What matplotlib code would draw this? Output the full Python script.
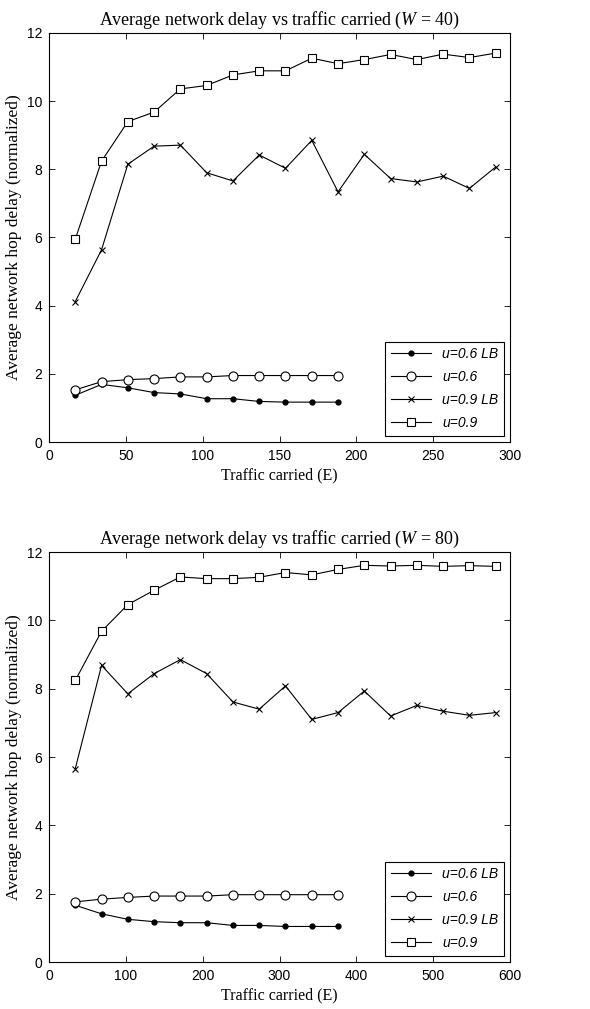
import matplotlib
matplotlib.use('Agg')
import matplotlib.pyplot as plt

plt.rcParams['font.family'] = ['Liberation Sans', 'DejaVu Sans']
plt.rcParams['mathtext.fontset'] = 'custom'
plt.rcParams['mathtext.rm'] = 'Liberation Serif'
plt.rcParams['mathtext.it'] = 'Liberation Serif:italic'

# W = 40
x40 = [17.1, 34.2, 51.3, 68.4, 85.5, 102.6, 119.7, 136.8, 153.9, 171.0, 188.1,
       205.2, 222.3, 239.4, 256.5, 273.6, 290.7]
lb06_40 = [1.37, 1.69, 1.59, 1.45, 1.41, 1.27, 1.27, 1.19, 1.17, 1.17, 1.17]
u06_40 = [1.53, 1.77, 1.83, 1.86, 1.91, 1.91, 1.95, 1.95, 1.95, 1.95, 1.95]
lb09_40 = [4.12, 5.64, 8.15, 8.68, 8.71, 7.90, 7.66, 8.42, 8.03, 8.85, 7.34,
           8.44, 7.73, 7.63, 7.80, 7.44, 8.07]
u09_40 = [5.95, 8.24, 9.40, 9.68, 10.36, 10.46, 10.77, 10.89, 10.89, 11.26, 11.10,
          11.22, 11.37, 11.22, 11.38, 11.28, 11.41]

# W = 80
x80 = [34.2, 68.4, 102.6, 136.8, 171.0, 205.2, 239.4, 273.6, 307.8, 342.0, 376.2,
       410.4, 444.6, 478.8, 513.0, 547.2, 581.4]
lb06_80 = [1.66, 1.41, 1.25, 1.18, 1.15, 1.15, 1.07, 1.07, 1.04, 1.04, 1.04]
u06_80 = [1.76, 1.84, 1.89, 1.93, 1.93, 1.93, 1.97, 1.97, 1.97, 1.97, 1.97]
lb09_80 = [5.66, 8.68, 7.85, 8.44, 8.85, 8.44, 7.61, 7.40, 8.08, 7.10, 7.30,
           7.93, 7.20, 7.51, 7.34, 7.22, 7.30]
u09_80 = [8.24, 9.68, 10.46, 10.88, 11.27, 11.22, 11.22, 11.26, 11.40, 11.33, 11.49,
          11.61, 11.59, 11.61, 11.58, 11.60, 11.58]

labels = ['u=0.6 LB', 'u=0.6', 'u=0.9 LB', 'u=0.9']
W = [40, 80]
xmax = [300, 600]


def draw(ax, x, lb06, u06, lb09, u09, w, xm):
    n = len(lb06)
    ax.plot(x[:n], lb06, 'k-', marker='o', ms=3.5, lw=0.8, label=labels[0])
    ax.plot(x[:n], u06, 'k-', marker='o', ms=6.5, mfc='white', mew=0.8, lw=0.8, label=labels[1])
    ax.plot(x, lb09, 'k-', marker='x', ms=4, mew=0.8, lw=0.8, label=labels[2])
    ax.plot(x, u09, 'k-', marker='s', ms=6, mfc='white', mew=0.8, lw=0.8, label=labels[3])
    ax.set_xlim(0, xm)
    ax.set_ylim(0, 12)
    ax.set_yticks([0, 2, 4, 6, 8, 10, 12])
    ax.tick_params(direction='in', top=True, right=True, labelsize=10, length=4, width=0.6, pad=5)
    for s in ax.spines.values():
        s.set_linewidth(0.8)
    ax.set_title('Average network delay vs traffic carried ($\\mathit{W}$ = $\\mathit{%d)}$' % w,
                 family='Liberation Serif', fontsize=13, pad=6)
    ax.set_xlabel('Traffic carried (E)', family='Liberation Serif', fontsize=11.5, labelpad=3)
    ax.set_ylabel('Average network hop delay (normalized)', family='Liberation Serif',
                  fontsize=12.5, labelpad=3)
    leg = ax.legend(loc='lower right', prop={'style': 'italic', 'size': 10},
                    fancybox=False, edgecolor='black', framealpha=1,
                    borderaxespad=0.45, handlelength=2.9, labelspacing=0.65)
    leg.get_frame().set_linewidth(0.8)


fig = plt.figure(figsize=(5.9, 10.09), dpi=100)
ax1 = fig.add_axes([49 / 590, 1 - 442 / 1009, 461 / 590, 409 / 1009])
ax2 = fig.add_axes([49 / 590, 1 - 962 / 1009, 461 / 590, 410 / 1009])
draw(ax1, x40, lb06_40, u06_40, lb09_40, u09_40, W[0], xmax[0])
draw(ax2, x80, lb06_80, u06_80, lb09_80, u09_80, W[1], xmax[1])

fig.savefig('out.png', dpi=100)
